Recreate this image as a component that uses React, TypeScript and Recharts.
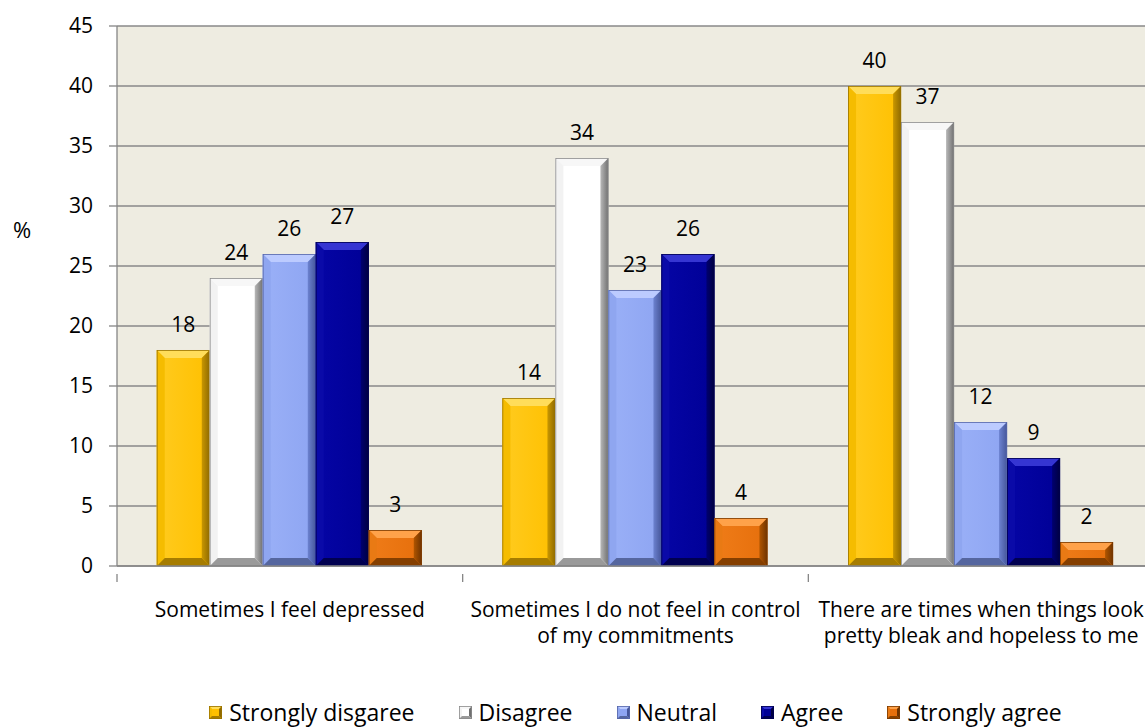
import React from "react";
import { BarChart, Bar, XAxis, YAxis, CartesianGrid, LabelList } from "recharts";

// Survey results (% of respondents) per statement and answer
const categories = [
  "Sometimes I feel depressed",
  "Sometimes I do not feel in control of my commitments",
  "There are times when things look pretty bleak and hopeless to me",
];
const categoryLines = [
  ["Sometimes I feel depressed"],
  ["Sometimes I do not feel in control", "of my commitments"],
  ["There are times when things look", "pretty bleak and hopeless to me"],
];
const seriesNames = ["Strongly disgaree", "Disagree", "Neutral", "Agree", "Strongly agree"];
const stronglyDisagree = [18, 14, 40];
const disagree = [24, 34, 37];
const neutral = [26, 23, 12];
const agree = [27, 26, 9];
const stronglyAgree = [3, 4, 2];
const yTicks = [0, 5, 10, 15, 20, 25, 30, 35, 40, 45];

const seriesKeys = ["sd", "d", "n", "a", "sa"];
const seriesValues = [stronglyDisagree, disagree, neutral, agree, stronglyAgree];

const data = categories.map((name, i) => {
  const row: Record<string, string | number> = { name };
  seriesKeys.forEach((k, s) => {
    row[k] = seriesValues[s][i];
  });
  return row;
});

// Bevelled fill tones for each series
type Tone = { face: string; faceHi: string; top: string; left: string; right: string; rightDeep: string; bottom: string; edge: string };
const TONES: Tone[] = [
  { face: "#FFC000", faceHi: "#FFCB1F", top: "#FFDD5A", left: "#F5BC00", right: "#C99700", rightDeep: "#8F6A00", bottom: "#A67C00", edge: "#9A7400" },
  { face: "#FFFFFF", faceHi: "#FFFFFF", top: "#F7F7F7", left: "#F2F2F2", right: "#B8B8B8", rightDeep: "#707070", bottom: "#9A9A9A", edge: "#8A8A8A" },
  { face: "#8EA5F2", faceHi: "#9AB0F7", top: "#BCCBFF", left: "#8FA6F0", right: "#6C82D0", rightDeep: "#45569A", bottom: "#55669F", edge: "#5566A8" },
  { face: "#000096", faceHi: "#0505A5", top: "#3535D2", left: "#0A0AA8", right: "#000070", rightDeep: "#000040", bottom: "#000050", edge: "#000050" },
  { face: "#E66F0C", faceHi: "#EF7C18", top: "#FFA24A", left: "#E97A14", right: "#B05500", rightDeep: "#6E3300", bottom: "#853F00", edge: "#7A3A00" },
];

const CHART_W = 1160;
const CHART_H = 728;
const YAXIS_W = 117;
const MARGIN = { top: 26, right: 6, left: 0, bottom: 0 };
const XAXIS_H = CHART_H - 566;
const FONT = "'Open Sans', sans-serif";

function BevelBar(props: any) {
  const { x, y, width, height, tone, idx } = props;
  if (!height || height <= 0) return null;
  const b = Math.min(8, width / 4, height / 2);
  const x2 = x + width;
  const y2 = y + height;
  return (
    <g>
      <rect x={x} y={y} width={width} height={height} fill={`url(#face-${idx})`} />
      <polygon points={`${x},${y} ${x2},${y} ${x2 - b},${y + b} ${x + b},${y + b}`} fill={tone.top} />
      <polygon points={`${x},${y} ${x + b},${y + b} ${x + b},${y2 - b} ${x},${y2}`} fill={tone.left} />
      <polygon points={`${x2},${y} ${x2},${y2} ${x2 - b},${y2 - b} ${x2 - b},${y + b}`} fill={`url(#right-${idx})`} />
      <polygon points={`${x},${y2} ${x + b},${y2 - b} ${x2 - b},${y2 - b} ${x2},${y2}`} fill={tone.bottom} />
      <rect x={x + 0.4} y={y + 0.4} width={width - 0.8} height={height - 0.8} fill="none" stroke={tone.edge} strokeWidth={0.8} />
    </g>
  );
}

function CategoryTick(props: any) {
  const { x, y, index } = props;
  const plotW = CHART_W - YAXIS_W - MARGIN.left - MARGIN.right;
  const half = plotW / categories.length / 2;
  const lines = categoryLines[index] || [];
  return (
    <g>
      <line x1={x - half} y1={y} x2={x - half} y2={y + 8} stroke="#868686" strokeWidth={1.3} />
      {index === categories.length - 1 && (
        <line x1={x + half} y1={y} x2={x + half} y2={y + 8} stroke="#868686" strokeWidth={1.3} />
      )}
      <text x={x} y={y + 43} textAnchor="middle" fontFamily={FONT} fontSize={21} fill="#000">
        {lines.map((t, i) => (
          <tspan key={i} x={x} dy={i === 0 ? 0 : 26}>
            {t}
          </tspan>
        ))}
      </text>
    </g>
  );
}

function LegendSwatch({ tone }: { tone: Tone }) {
  const s = 13;
  const b = 3;
  return (
    <svg width={s} height={s} style={{ display: "block" }}>
      <rect x={0} y={0} width={s} height={s} fill={tone.face} />
      <polygon points={`0,0 ${s},0 ${s - b},${b} ${b},${b}`} fill={tone.top} />
      <polygon points={`0,0 ${b},${b} ${b},${s - b} 0,${s}`} fill={tone.left} />
      <polygon points={`${s},0 ${s},${s} ${s - b},${s - b} ${s - b},${b}`} fill={tone.rightDeep} />
      <polygon points={`0,${s} ${b},${s - b} ${s - b},${s - b} ${s},${s}`} fill={tone.bottom} />
      <rect x={0.4} y={0.4} width={s - 0.8} height={s - 0.8} fill="none" stroke={tone.edge} strokeWidth={0.8} />
    </svg>
  );
}

export default function App() {
  const plotLeft = YAXIS_W + MARGIN.left;
  const plotW = CHART_W - plotLeft - MARGIN.right;
  return (
    <div style={{ position: "fixed", left: 0, top: 0, width: 1145, height: 728, overflow: "hidden", background: "#fff" }}>
      <BarChart
        width={CHART_W}
        height={CHART_H}
        data={data}
        margin={MARGIN}
        barCategoryGap="11.5%"
        barGap={0}
      >
        <defs>
          {TONES.map((t, i) => (
            <linearGradient key={`f${i}`} id={`face-${i}`} x1="0" y1="0" x2="1" y2="0">
              <stop offset="0%" stopColor={t.faceHi} />
              <stop offset="100%" stopColor={t.face} />
            </linearGradient>
          ))}
          {TONES.map((t, i) => (
            <linearGradient key={`r${i}`} id={`right-${i}`} x1="0" y1="0" x2="1" y2="0">
              <stop offset="0%" stopColor={t.right} />
              <stop offset="100%" stopColor={t.rightDeep} />
            </linearGradient>
          ))}
        </defs>
        <CartesianGrid vertical={false} stroke="#888888" strokeWidth={1.3} fill="#EEECE1" fillOpacity={1} />
        <XAxis
          dataKey="name"
          height={XAXIS_H}
          axisLine={{ stroke: "#868686", strokeWidth: 1.3 }}
          tickLine={false}
          tick={<CategoryTick />}
          interval={0}
        />
        <YAxis
          width={YAXIS_W}
          domain={[0, 45]}
          ticks={yTicks}
          interval={0}
          axisLine={{ stroke: "#868686", strokeWidth: 1.3 }}
          tickLine={{ stroke: "#868686", strokeWidth: 1.3 }}
          tickSize={8}
          tickMargin={16}
          tick={{ fontFamily: FONT, fontSize: 21, fill: "#000" }}
        />
        {seriesKeys.map((k, i) => (
          <Bar
            key={k}
            dataKey={k}
            name={seriesNames[i]}
            isAnimationActive={false}
            shape={(p: any) => <BevelBar {...p} tone={TONES[i]} idx={i} />}
          >
            <LabelList dataKey={k} position="top" offset={18} style={{ fontFamily: FONT, fontSize: 21, fill: "#000" }} />
          </Bar>
        ))}
        <text x={22} y={232} textAnchor="middle" dominantBaseline="middle" fontFamily={FONT} fontSize={22} fill="#000">
          %
        </text>
      </BarChart>
      <div
        style={{
          position: "absolute",
          top: 699,
          left: plotLeft,
          width: plotW,
          display: "flex",
          justifyContent: "center",
          alignItems: "center",
          fontFamily: FONT,
          fontSize: 23,
          lineHeight: "26px",
          color: "#000",
        }}
      >
        {seriesNames.map((n, i) => (
          <div key={n} style={{ display: "flex", alignItems: "center", marginRight: i < seriesNames.length - 1 ? 44 : 0 }}>
            <LegendSwatch tone={TONES[i]} />
            <span style={{ marginLeft: 7 }}>{n}</span>
          </div>
        ))}
      </div>
    </div>
  );
}
